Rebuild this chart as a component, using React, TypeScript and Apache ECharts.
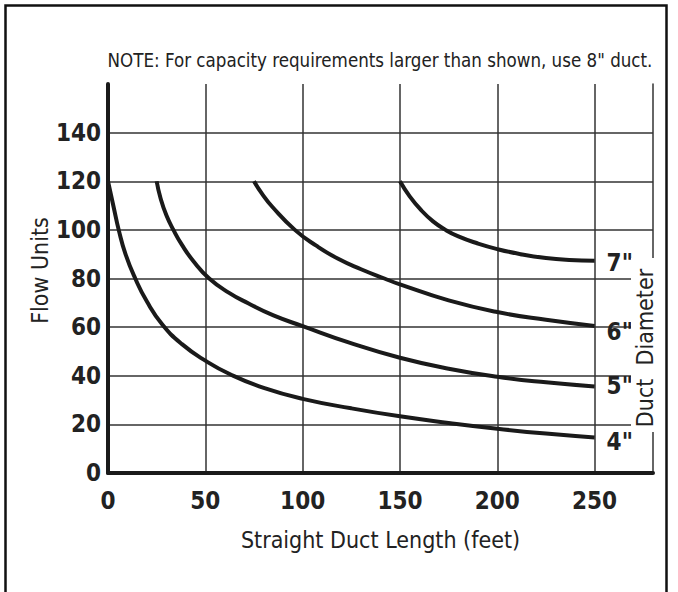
import React, { useEffect, useRef } from "react";
import * as echarts from "echarts";

const xTicks = [0, 50, 100, 150, 200, 250];
const yTicks = [0, 20, 40, 60, 80, 100, 120, 140];

const duct4: [number, number][] = [
  [0, 120], [3, 109], [5.5, 100], [9, 90], [14, 80], [20, 70.5], [28, 61],
  [38, 53], [50, 46.2], [63, 40.5], [80, 35], [100, 30.5], [125, 26.6],
  [150, 23.3], [175, 20.6], [200, 18.2], [225, 16.2], [250, 14.6],
];
const duct5: [number, number][] = [
  [25, 120], [27, 113], [30, 106], [33.6, 100], [38, 93.8], [44, 87],
  [52, 80], [62, 74.2], [72, 69.8], [85, 64.8], [100, 60.4], [124, 53.6],
  [150, 47.4], [175, 42.9], [200, 39.6], [225, 37.3], [250, 35.6],
];
const duct6: [number, number][] = [
  [75, 120], [79, 115], [84.5, 109.4], [96, 100], [107, 93.5], [118, 88.2],
  [130, 83.8], [142, 80], [150, 77.6], [175, 71], [200, 66.2], [225, 63],
  [250, 60.5],
];
const duct7: [number, number][] = [
  [150, 120], [155, 113.8], [161, 108], [167, 103.5], [173, 100.2], [180, 97.3],
  [190, 94.4], [200, 92.1], [212, 90], [225, 88.4], [237, 87.6], [250, 87.3],
];

const seriesNames = ['4"', '5"', '6"', '7"'];
const labelOffsets = [4, 0, 6, 2];

const NARROW = '"Liberation Sans Narrow", "DejaVu Sans Condensed", "Roboto Condensed", sans-serif';

export default function App() {
  const ref = useRef<HTMLDivElement>(null);
  useEffect(() => {
    if (!ref.current) return;
    const chart = echarts.init(ref.current, null, { renderer: "svg" });
    const datasets = [duct4, duct5, duct6, duct7];
    chart.setOption({
      animation: false,
      backgroundColor: "#ffffff",
      grid: { left: 108, right: 25, top: 84, bottom: 119, containLabel: false },
      xAxis: {
        type: "value",
        min: 0,
        max: 280,
        interval: 50,
        name: "Straight Duct Length (feet)",
        nameLocation: "middle",
        nameGap: 55,
        nameMoveOverlap: false,
        nameTextStyle: { fontSize: 23, color: "#222", fontFamily: NARROW },
        axisLine: { show: true, onZero: false, lineStyle: { color: "#1a1a1a", width: 4 } },
        axisTick: { show: false },
        axisLabel: {
          fontSize: 24,
          fontWeight: "bold",
          color: "#222",
          fontFamily: NARROW,
          margin: 16,
          formatter: (v: number) => (xTicks.includes(v) ? String(v) : ""),
        },
        splitLine: {
          show: true,
          showMinLine: false,
          showMaxLine: false,
          lineStyle: { color: "#333", width: 1.5 },
        },
      },
      yAxis: [
        {
          type: "value",
          min: 0,
          max: 160,
          interval: 20,
          name: "Flow Units",
          nameLocation: "middle",
          nameRotate: 90,
          nameGap: 57,
          nameMoveOverlap: false,
          nameTextStyle: { fontSize: 23, color: "#222", fontFamily: NARROW, padding: [0, 0, 0, 16] },
          axisLine: { show: true, onZero: false, lineStyle: { color: "#1a1a1a", width: 4 } },
          axisTick: { show: false },
          axisLabel: {
            fontSize: 24,
            fontWeight: "bold",
            color: "#222",
            fontFamily: NARROW,
            margin: 7,
            formatter: (v: number) => (yTicks.includes(v) ? String(v) : ""),
          },
          splitLine: {
            show: true,
            showMinLine: false,
            showMaxLine: false,
            lineStyle: { color: "#333", width: 1.5 },
          },
        },
        {
          type: "value",
          position: "right",
          min: 0,
          max: 160,
          axisLine: { show: true, onZero: false, lineStyle: { color: "#333", width: 1.5 } },
          axisTick: { show: false },
          axisLabel: { show: false },
          splitLine: { show: false },
        },
      ],
      series: datasets.map((d, i) => ({
        name: seriesNames[i],
        type: "line",
        data: d,
        smooth: 0.5,
        showSymbol: false,
        symbol: "none",
        z: 5,
        lineStyle: { color: "#1a1a1a", width: 4 },
        endLabel: {
          show: true,
          formatter: seriesNames[i],
          fontSize: 24,
          fontWeight: "bold",
          color: "#222",
          fontFamily: NARROW,
          distance: 12,
          offset: [0, labelOffsets[i]],
        },
      })),
      graphic: [
        {
          type: "rect",
          z: 100,
          shape: { x: 5.5, y: 5.5, width: 661, height: 600 },
          style: { fill: "none", stroke: "#111", lineWidth: 2.5 },
        },
        {
          type: "rect",
          z: 100,
          shape: { x: 631, y: 258, width: 30, height: 174 },
          style: { fill: "#ffffff" },
        },
        {
          type: "text",
          z: 101,
          x: 645,
          y: 348,
          rotation: Math.PI / 2,
          style: {
            text: "Duct  Diameter",
            fill: "#222",
            font: `23px ${NARROW}`,
            align: "center",
            verticalAlign: "middle",
          },
        },
        {
          type: "text",
          z: 101,
          x: 380,
          y: 60,
          scaleX: 0.93,
          style: {
            text: 'NOTE: For capacity requirements larger than shown, use 8" duct.',
            fill: "#222",
            font: `20px ${NARROW}`,
            align: "center",
            verticalAlign: "middle",
          },
        },
      ],
    });
    return () => chart.dispose();
  }, []);
  return (
    <div
      ref={ref}
      style={{ position: "fixed", left: 0, top: 0, width: 678, height: 592, background: "#fff" }}
    />
  );
}
